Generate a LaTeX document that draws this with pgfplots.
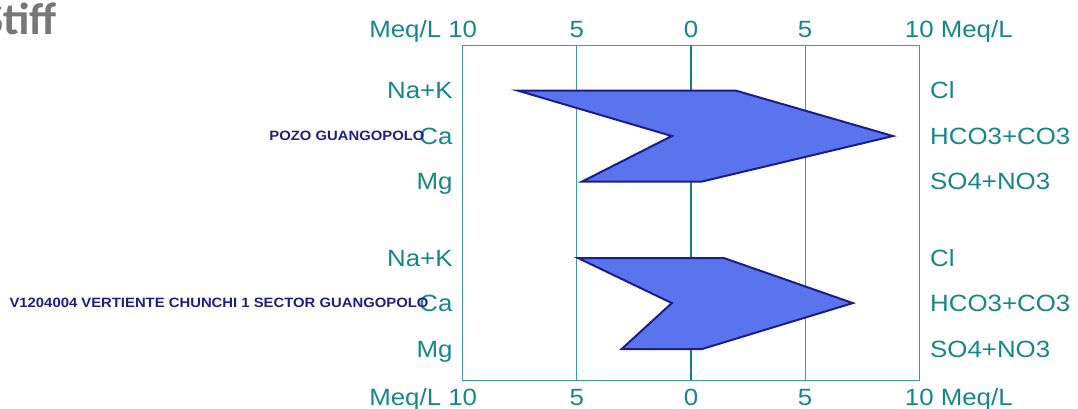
\documentclass[border=0pt]{standalone}
\usepackage{fontspec}
\setmainfont{Liberation Sans}[FakeStretch=1.1]
\newfontfamily\titlefont{Carlito}
\usepackage{pgfplots}
\pgfplotsset{compat=1.18}

\definecolor{stiffteal}{HTML}{15878A}
\definecolor{stiffline}{HTML}{3A9C9C}
\definecolor{stiffaxis}{HTML}{0F8288}
\definecolor{polyfill}{HTML}{5A74EE}
\definecolor{polyedge}{HTML}{1A1D8A}
\definecolor{namecol}{HTML}{1E1E86}
\definecolor{titlegray}{HTML}{777777}

% Stiff polygons: cations (negative side) and anions (positive side), meq/L
% rows: Na+K / Cl, Ca / HCO3+CO3, Mg / SO4+NO3
\pgfplotstableread{
x      y
-7.60  0
 1.95  0
 8.85 -1
 0.48 -2
-4.77 -2
-0.84 -1
}\pozo
\pgfplotstableread{
x      y
-4.95 -3.68
 1.44 -3.68
 7.09 -4.67
 0.48 -5.68
-3.04 -5.68
-0.84 -4.67
}\vertiente

\begin{document}
\begin{tikzpicture}
\pgfplotsset{
  stiffbase/.style={
    at={(462.7bp,29bp)}, anchor=south west, scale only axis,
    width=456.6bp, height=335bp,
    xmin=-10, xmax=10, ymin=-6.36, ymax=1,
    xtick={-10,-5,0,5,10},
    xticklabels={\llap{Meq/L }10,5,0,5,10\rlap{ Meq/L}},
    ytick={0,-1,-2,-3.68,-4.67,-5.68},
    major tick length=0pt,
    /pgf/number format/assume math mode=true,
    ticklabel style={font=\fontsize{23.5bp}{28bp}\selectfont, text=stiffteal, inner sep=0pt},
    clip=false,
  }
}
% title
\node[anchor=base west, inner sep=0pt, text=titlegray,
      font=\titlefont\bfseries\fontsize{45bp}{50bp}\selectfont] at (-18bp,374bp) {Stiff};

\begin{axis}[stiffbase,
  axis line style={stiffline, line width=1bp},
  xmajorgrids, grid style={stiffline, line width=1bp},
  xticklabel pos=lower,
  xticklabel style={anchor=base, yshift=-25bp},
  yticklabels={Na+K,Ca,Mg,Na+K,Ca,Mg},
  yticklabel pos=left,
  yticklabel style={anchor=base east, xshift=-10bp, yshift=-8.4bp},
]
  % zero line
  \addplot[stiffaxis, line width=2.6bp] coordinates {(0,1) (0,-6.36)};
  % sample polygons
  \addplot[fill=polyfill, draw=polyedge, line width=2bp, line join=miter]
    table[x=x, y=y] {\pozo} -- cycle;
  \addplot[fill=polyfill, draw=polyedge, line width=2bp, line join=miter]
    table[x=x, y=y] {\vertiente} -- cycle;
  % sample names
  \node[anchor=base east, inner sep=0pt, text=namecol,
        font=\bfseries\fontsize{13.5bp}{16bp}\selectfont]
    at (axis cs:-10,-1) [xshift=-38bp, yshift=-4.9bp] {POZO GUANGOPOLO};
  \node[anchor=base east, inner sep=0pt, text=namecol,
        font=\bfseries\fontsize{13.5bp}{16bp}\selectfont]
    at (axis cs:-10,-4.67) [xshift=-34bp, yshift=-4.9bp] {V1204004 VERTIENTE CHUNCHI 1 SECTOR GUANGOPOLO};
\end{axis}

\begin{axis}[stiffbase,
  axis line style={draw=none},
  xticklabel pos=upper,
  xticklabel style={anchor=base, yshift=7.7bp},
  yticklabels={Cl,HCO3+CO3,SO4+NO3,Cl,HCO3+CO3,SO4+NO3},
  yticklabel pos=right,
  yticklabel style={anchor=base west, xshift=10.7bp, yshift=-8.4bp},
]
\end{axis}

\pgfresetboundingbox
\useasboundingbox (0,0) rectangle (1078bp,409bp);
\end{tikzpicture}
\end{document}
